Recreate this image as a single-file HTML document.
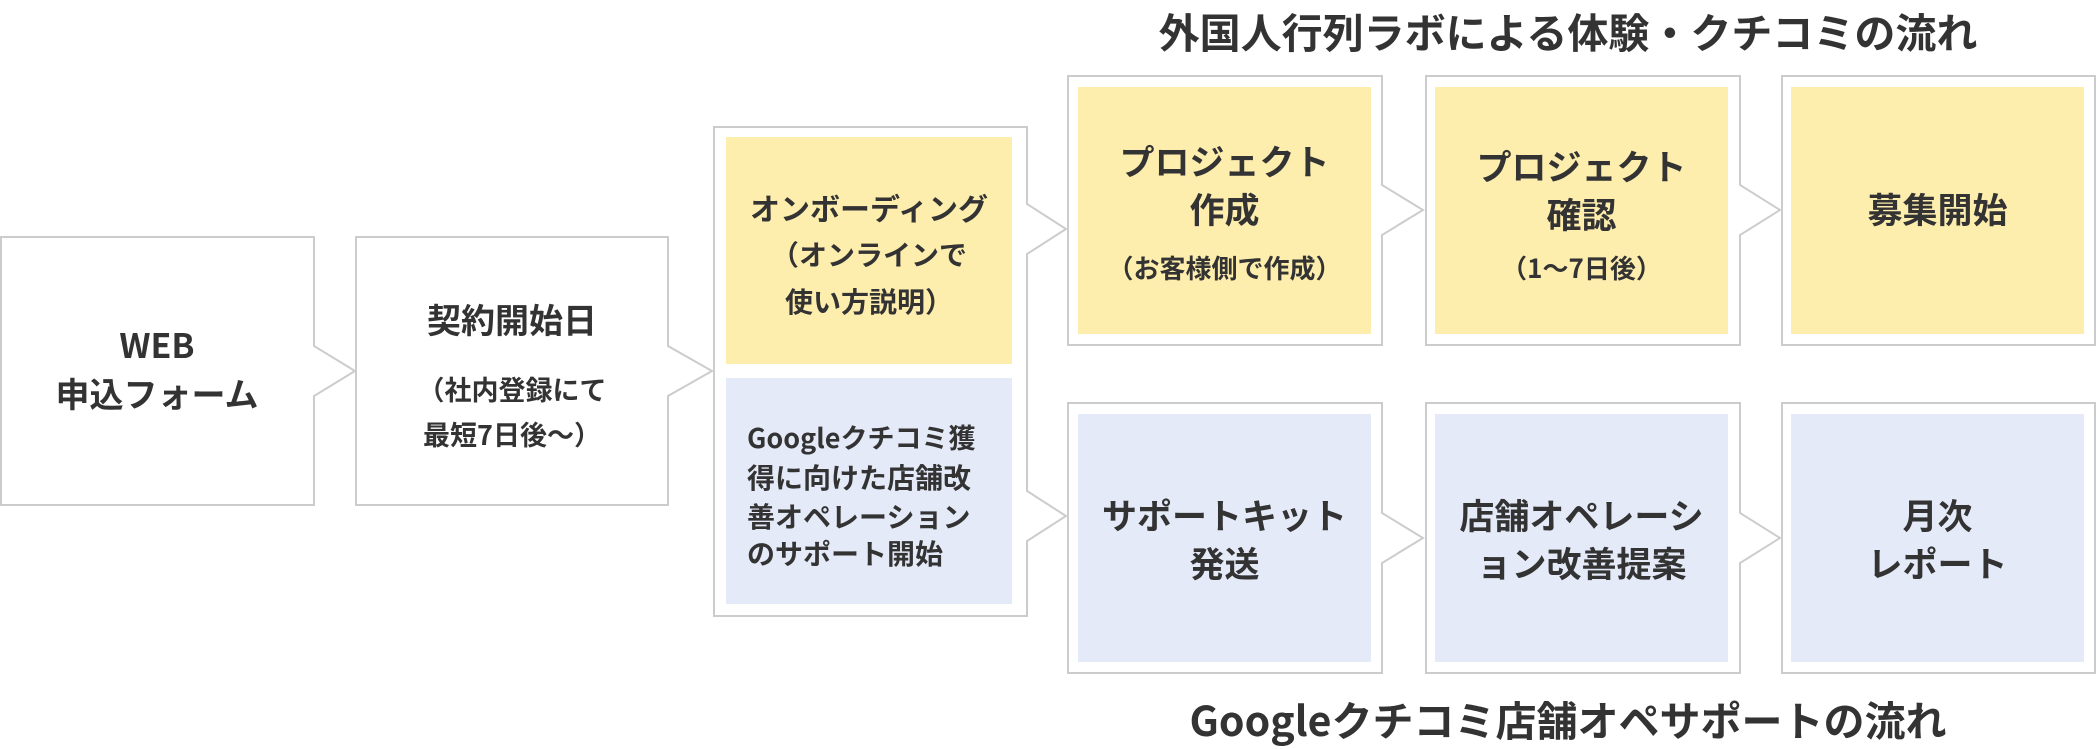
<!DOCTYPE html>
<html><head><meta charset="utf-8"><style>
html,body{margin:0;padding:0;background:#fff;}
body{width:2096px;height:749px;position:relative;overflow:hidden;font-family:"Noto Sans CJK JP","Liberation Sans",sans-serif;color:#333;font-weight:bold;}
.t{position:absolute;text-align:center;white-space:nowrap;line-height:1;}
.y{position:absolute;background:#feeeae;}
.b{position:absolute;background:#e5eaf8;}
</style></head><body>
<svg width="2096" height="749" style="position:absolute;left:0;top:0">
<g fill="#fff" stroke="#cccccc" stroke-width="2">
<path d="M1,237 H314 V346 L355,371 L314,396 V505 H1 Z"/>
<path d="M356,237 H668 V346 L712,371 L668,396 V505 H356 Z"/>
<path d="M714,127 H1027 V204 L1066,229 L1027,254 V491 L1066,516 L1027,541 V616 H714 Z"/>
<path d="M1068,76 H1382 V185 L1423,210 L1382,235 V345 H1068 Z"/>
<path d="M1426,76 H1740 V185 L1780,210 L1740,235 V345 H1426 Z"/>
<path d="M1782,76 H2095 V345 H1782 Z"/>
<path d="M1068,403 H1382 V513 L1423,538 L1382,563 V673 H1068 Z"/>
<path d="M1426,403 H1740 V513 L1780,538 L1740,563 V673 H1426 Z"/>
<path d="M1782,403 H2095 V673 H1782 Z"/>
</g></svg>
<div class="y" style="left:726px;top:137px;width:286px;height:227px"></div>
<div class="b" style="left:726px;top:378px;width:286px;height:226px"></div>
<div class="y" style="left:1078px;top:87px;width:293px;height:247px"></div>
<div class="y" style="left:1435px;top:87px;width:293px;height:247px"></div>
<div class="y" style="left:1791px;top:87px;width:293px;height:247px"></div>
<div class="b" style="left:1078px;top:414px;width:293px;height:248px"></div>
<div class="b" style="left:1435px;top:414px;width:293px;height:248px"></div>
<div class="b" style="left:1791px;top:414px;width:293px;height:248px"></div>

<div class="t" style="left:1100px;width:936px;top:10px;font-size:41px">外国人行列ラボによる体験・クチコミの流れ</div>
<div class="t" style="left:1100px;width:936px;top:698px;font-size:41px">Googleクチコミ店舗オペサポートの流れ</div>

<div class="t" style="left:0;width:314px;top:327px;font-size:34px">WEB</div>
<div class="t" style="left:0;width:314px;top:376px;font-size:34px">申込フォーム</div>

<div class="t" style="left:356px;width:312px;top:302px;font-size:34px">契約開始日</div>
<div class="t" style="left:356px;width:312px;top:375px;font-size:27px">（社内登録にて</div>
<div class="t" style="left:356px;width:312px;top:420px;font-size:27px">最短7日後〜）</div>

<div class="t" style="left:726px;width:286px;top:192px;font-size:30px">オンボーディング</div>
<div class="t" style="left:726px;width:286px;top:240px;font-size:28px">（オンラインで</div>
<div class="t" style="left:726px;width:286px;top:287px;font-size:28px">使い方説明）</div>

<div class="t" style="left:747px;top:423px;font-size:27px;text-align:left">Googleクチコミ獲</div>
<div class="t" style="left:747px;top:463px;font-size:28px;text-align:left">得に向けた店舗改</div>
<div class="t" style="left:747px;top:502px;font-size:28px;text-align:left">善オペレーション</div>
<div class="t" style="left:747px;top:539px;font-size:28px;text-align:left">のサポート開始</div>

<div class="t" style="left:1078px;width:293px;top:143px;font-size:35px">プロジェクト</div>
<div class="t" style="left:1078px;width:293px;top:191px;font-size:35px">作成</div>
<div class="t" style="left:1078px;width:293px;top:255px;font-size:26px">（お客様側で作成）</div>

<div class="t" style="left:1435px;width:293px;top:148px;font-size:35px">プロジェクト</div>
<div class="t" style="left:1435px;width:293px;top:196px;font-size:35px">確認</div>
<div class="t" style="left:1435px;width:293px;top:255px;font-size:26px">（1〜7日後）</div>

<div class="t" style="left:1791px;width:293px;top:191px;font-size:35px">募集開始</div>

<div class="t" style="left:1078px;width:293px;top:497px;font-size:35px">サポートキット</div>
<div class="t" style="left:1078px;width:293px;top:545px;font-size:35px">発送</div>
<div class="t" style="left:1435px;width:293px;top:497px;font-size:35px">店舗オペレーシ</div>
<div class="t" style="left:1435px;width:293px;top:545px;font-size:35px">ョン改善提案</div>
<div class="t" style="left:1791px;width:293px;top:497px;font-size:35px">月次</div>
<div class="t" style="left:1791px;width:293px;top:545px;font-size:35px">レポート</div>
</body></html>
